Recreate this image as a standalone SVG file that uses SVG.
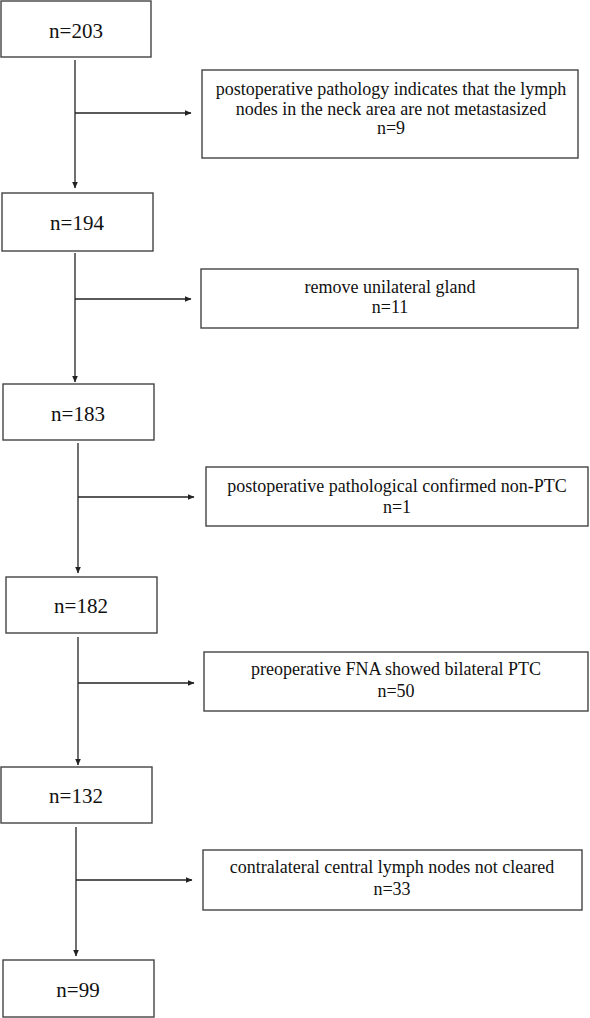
<svg xmlns="http://www.w3.org/2000/svg" width="590" height="1018" viewBox="0 0 590 1018">
<defs>
<marker id="ah" markerUnits="userSpaceOnUse" markerWidth="7" markerHeight="6" refX="6.5" refY="3" orient="auto">
<path d="M0,0 L7,3 L0,6 z" fill="#222"/>
</marker>
<style>
.box{fill:#fff;stroke:#444;stroke-width:1.4}
.main{font-family:"Liberation Serif","Times New Roman",serif;font-size:21px;fill:#111;text-anchor:middle}
.side{font-family:"Liberation Serif","Times New Roman",serif;font-size:18px;fill:#111;text-anchor:middle}
.ln{stroke:#222;stroke-width:1.3;fill:none;marker-end:url(#ah)}
</style>
</defs>
<rect width="590" height="1018" fill="#fff"/>
<g id="connectors">
<line class="ln" x1="75" y1="60" x2="75" y2="188"/>
<line class="ln" x1="75" y1="113" x2="191" y2="113"/>
<line class="ln" x1="75" y1="253" x2="75" y2="382"/>
<line class="ln" x1="75" y1="299" x2="191" y2="299"/>
<line class="ln" x1="78" y1="443" x2="78" y2="573"/>
<line class="ln" x1="78" y1="497" x2="194" y2="497"/>
<line class="ln" x1="78" y1="637" x2="78" y2="765"/>
<line class="ln" x1="78" y1="683" x2="194" y2="683"/>
<line class="ln" x1="76" y1="827" x2="76" y2="956"/>
<line class="ln" x1="76" y1="880" x2="192" y2="880"/>
</g>
<g id="n203"><rect class="box" x="1" y="1" width="150" height="56"/><text class="main" x="76" y="38">n=203</text></g>
<g id="excl1"><rect class="box" x="202" y="70" width="376" height="88"/>
<text class="side" x="391" y="95">postoperative pathology indicates that the lymph</text>
<text class="side" x="391" y="115">nodes in the neck area are not metastasized</text>
<text class="side" x="391" y="134">n=9</text></g>
<g id="n194"><rect class="box" x="2" y="193" width="151" height="58"/><text class="main" x="77" y="230">n=194</text></g>
<g id="excl2"><rect class="box" x="201" y="269" width="377" height="59"/>
<text class="side" x="390" y="293">remove unilateral gland</text>
<text class="side" x="390" y="313">n=11</text></g>
<g id="n183"><rect class="box" x="3" y="384" width="151" height="56"/><text class="main" x="78" y="421">n=183</text></g>
<g id="excl3"><rect class="box" x="206" y="467" width="382" height="59"/>
<text class="side" x="397" y="492">postoperative pathological confirmed non-PTC</text>
<text class="side" x="397" y="513">n=1</text></g>
<g id="n182"><rect class="box" x="6" y="577" width="151" height="56"/><text class="main" x="81" y="613">n=182</text></g>
<g id="excl4"><rect class="box" x="204" y="652" width="384" height="59"/>
<text class="side" x="396" y="675">preoperative FNA showed bilateral PTC</text>
<text class="side" x="396" y="697">n=50</text></g>
<g id="n132"><rect class="box" x="1" y="767" width="151" height="56"/><text class="main" x="76" y="803">n=132</text></g>
<g id="excl5"><rect class="box" x="203" y="850" width="379" height="60"/>
<text class="side" x="392" y="873">contralateral central lymph nodes not cleared</text>
<text class="side" x="392" y="895">n=33</text></g>
<g id="n99"><rect class="box" x="3" y="960" width="151" height="57"/><text class="main" x="78" y="997">n=99</text></g>
</svg>
